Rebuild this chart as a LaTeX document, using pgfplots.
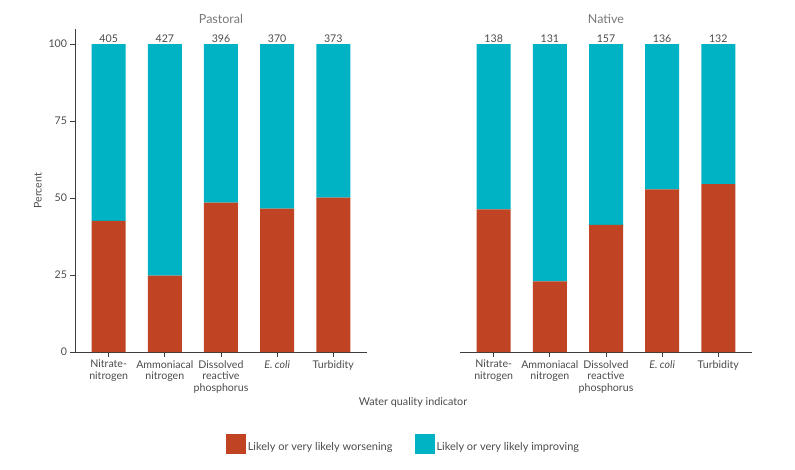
\documentclass[border=0pt]{standalone}
\usepackage{fontspec}
\setmainfont{Lato}
\usepackage{pgfplots}
\pgfplotsset{compat=1.18}
\usepackage{pgfplotstable}
\definecolor{worse}{RGB}{192,67,36}
\definecolor{better}{RGB}{0,179,196}
\definecolor{txt}{RGB}{75,75,75}
\definecolor{ttl}{RGB}{120,120,120}
\definecolor{axl}{RGB}{60,60,60}

\pgfplotstableread{
x w i n
0 42.6 57.4 405
1 24.8 75.2 427
2 48.5 51.5 396
3 46.6 53.4 370
4 50.1 49.9 373
}\pastoral
\pgfplotstableread{
x w i n
0 46.3 53.7 138
1 22.9 77.1 131
2 41.3 58.7 157
3 52.8 47.2 136
4 54.5 45.5 132
}\native

\pgfplotsset{
 panel/.style={
  scale only axis, width=292pt, height=322.7pt,
  ymin=0, ymax=104.8, xmin=-0.6, xmax=4.6,
  ybar stacked, bar width=34pt,
  xtick={0,...,4},
  xticklabels={{Nitrate-\\nitrogen},{Ammoniacal\\nitrogen},{Dissolved\\reactive\\phosphorus},{\textit{E. coli}},{Turbidity}},
  xticklabel style={align=center, font=\fontsize{10.6}{11.5}\selectfont, text=txt, inner sep=2pt, yshift=-1.5pt},
  yticklabel style={font=\fontsize{10.6}{11}\selectfont, text=txt},
  ytick={0,25,50,75,100},
  /pgf/number format/assume math mode=true,
  axis line style={draw=axl, line width=0.8pt},
  tick style={draw=axl, line width=0.8pt},
  major tick length=4.5pt,
  tick align=outside,
  title style={font=\fontsize{12.5}{13}\selectfont, text=ttl, at={(0.5,1)}, anchor=south, inner sep=0pt, yshift=0pt},
  legend image code/.code={\fill[#1] (0pt,-6.5pt) rectangle (20pt,13.5pt);},
 },
 cnt/.style={nodes near coords, point meta=explicit,
   visualization depends on={\thisrow{i} \as \segh},
   nodes near coords style={font=\fontsize{10.6}{11}\selectfont, text=txt, anchor=south, inner sep=1.5pt, yshift=\segh*1.5396pt},
   nodes near coords={\pgfmathprintnumber{\pgfplotspointmeta}}},
}

\begin{document}
\begin{tikzpicture}
\path[use as bounding box] (0,0) rectangle (795pt,-469pt);
\begin{axis}[panel, at={(75pt,-352pt)}, anchor=south west,
  title={Pastoral},
  axis x line*=bottom, axis y line*=left,
  ylabel={Percent}, ylabel style={font=\fontsize{10.6}{11}\selectfont, text=txt},
  legend style={at={(1.125,-0.285)}, anchor=center, draw=none, fill=none,
    legend columns=2, font=\fontsize{11}{12}\selectfont, text=txt,
    /tikz/every even column/.append style={column sep=20pt}},
  ]
\addplot[fill=worse, draw=none] table[x=x, y=w] {\pastoral};
\addlegendentry{Likely or very likely worsening}
\addplot[fill=better, draw=none, cnt] table[x=x, y=i, meta=n] {\pastoral};
\addlegendentry{Likely or very likely improving}
\end{axis}
\begin{axis}[panel, at={(460pt,-352pt)}, anchor=south west,
  title={Native},
  axis x line*=bottom, hide y axis,
  ]
\addplot[fill=worse, draw=none] table[x=x, y=w] {\native};
\addplot[fill=better, draw=none, cnt] table[x=x, y=i, meta=n] {\native};
\end{axis}
\node[font=\fontsize{10.8}{11}\selectfont, text=txt] at (413pt,-402pt) {Water quality indicator};
\end{tikzpicture}
\end{document}
